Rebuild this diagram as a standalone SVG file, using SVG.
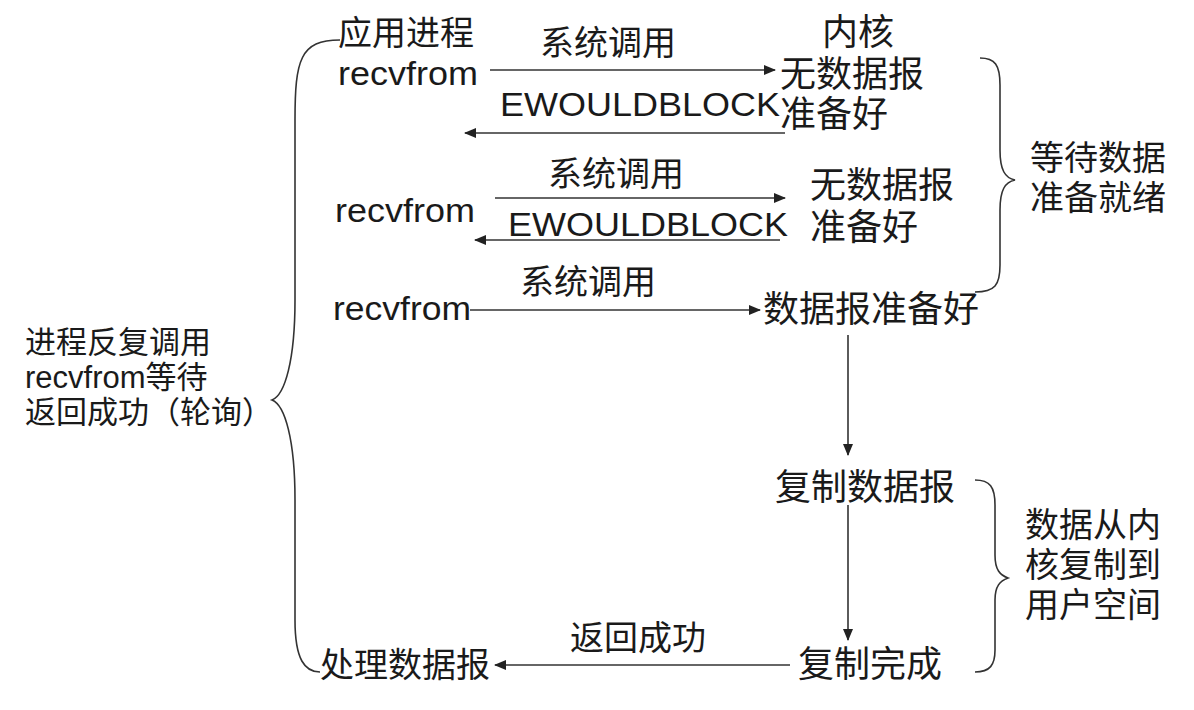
<svg xmlns="http://www.w3.org/2000/svg" width="1194" height="710" viewBox="0 0 1194 710">
<defs>
<marker id="ah" markerWidth="12" markerHeight="10" refX="11" refY="5" orient="auto" markerUnits="userSpaceOnUse"><path d="M0,0 L12,5 L0,10 z" fill="#222"/></marker>
<style>
text{font-family:"Liberation Sans","Noto Sans CJK SC",sans-serif;font-size:34px;fill:#1a1a1a}
.k{font-size:36px}
.l{font-size:31px}
.c{stroke:#333;stroke-width:1.6;fill:none}
.b{stroke:#333;stroke-width:1.6;fill:none}
</style>
</defs>
<rect width="1194" height="710" fill="#fff"/>
<g id="connectors">
<line class="c" x1="490" y1="70" x2="775" y2="70" marker-end="url(#ah)"/>
<line class="c" x1="785" y1="133" x2="465" y2="133" marker-end="url(#ah)"/>
<line class="c" x1="495" y1="198" x2="785" y2="198" marker-end="url(#ah)"/>
<line class="c" x1="780" y1="240" x2="475" y2="240" marker-end="url(#ah)"/>
<line class="c" x1="470" y1="310" x2="760" y2="310" marker-end="url(#ah)"/>
<line class="c" x1="848" y1="335" x2="848" y2="455" marker-end="url(#ah)"/>
<line class="c" x1="848" y1="505" x2="848" y2="640" marker-end="url(#ah)"/>
<line class="c" x1="790" y1="665" x2="495" y2="665" marker-end="url(#ah)"/>
<text x="540" y="55">系统调用</text>
<text x="500" y="116" textLength="280" lengthAdjust="spacingAndGlyphs">EWOULDBLOCK</text>
<text x="548" y="186">系统调用</text>
<text x="508" y="236" textLength="280" lengthAdjust="spacingAndGlyphs">EWOULDBLOCK</text>
<text x="520" y="294">系统调用</text>
<text x="570" y="650">返回成功</text>
</g>
<g id="braces">
<path class="b" d="M340,40 C300,40 295,60 295,120 L295,300 C295,360 285,395 272,400 C285,405 295,440 295,500 L295,620 C295,660 305,672 320,672"/>
<path class="b" d="M980,58 C995,58 1000,65 1000,85 L1000,150 C1000,170 1005,178 1015,180 C1005,182 1000,190 1000,210 L1000,265 C1000,285 995,292 975,292"/>
<path class="b" d="M975,480 C990,480 995,487 995,505 L995,555 C995,570 1000,575 1008,578 C1000,581 995,586 995,600 L995,650 C995,665 990,672 975,672"/>
</g>
<g id="app"><text x="338" y="45">应用进程</text><text x="338" y="85" textLength="140" lengthAdjust="spacingAndGlyphs">recvfrom</text></g>
<g id="app2"><text x="335" y="222" textLength="140" lengthAdjust="spacingAndGlyphs">recvfrom</text></g>
<g id="app3"><text x="333" y="320" textLength="138" lengthAdjust="spacingAndGlyphs">recvfrom</text></g>
<g id="kernel1"><text class="k" x="822" y="45">内核</text><text class="k" x="780" y="87">无数据报</text><text class="k" x="780" y="127">准备好</text></g>
<g id="kernel2"><text class="k" x="810" y="198">无数据报</text><text class="k" x="810" y="240">准备好</text></g>
<g id="ready"><text class="k" x="763" y="322">数据报准备好</text></g>
<g id="copy"><text class="k" x="775" y="500">复制数据报</text></g>
<g id="done"><text class="k" x="798" y="677">复制完成</text></g>
<g id="process"><text x="320" y="677">处理数据报</text></g>
<g id="wait"><text x="1030" y="170">等待数据</text><text x="1030" y="210">准备就绪</text></g>
<g id="copyspace"><text x="1025" y="537">数据从内</text><text x="1025" y="577">核复制到</text><text x="1025" y="617">用户空间</text></g>
<g id="left"><text class="l" x="25" y="353">进程反复调用</text><text class="l" x="25" y="388">recvfrom等待</text><text class="l" x="25" y="423">返回成功（轮询）</text></g>
</svg>
